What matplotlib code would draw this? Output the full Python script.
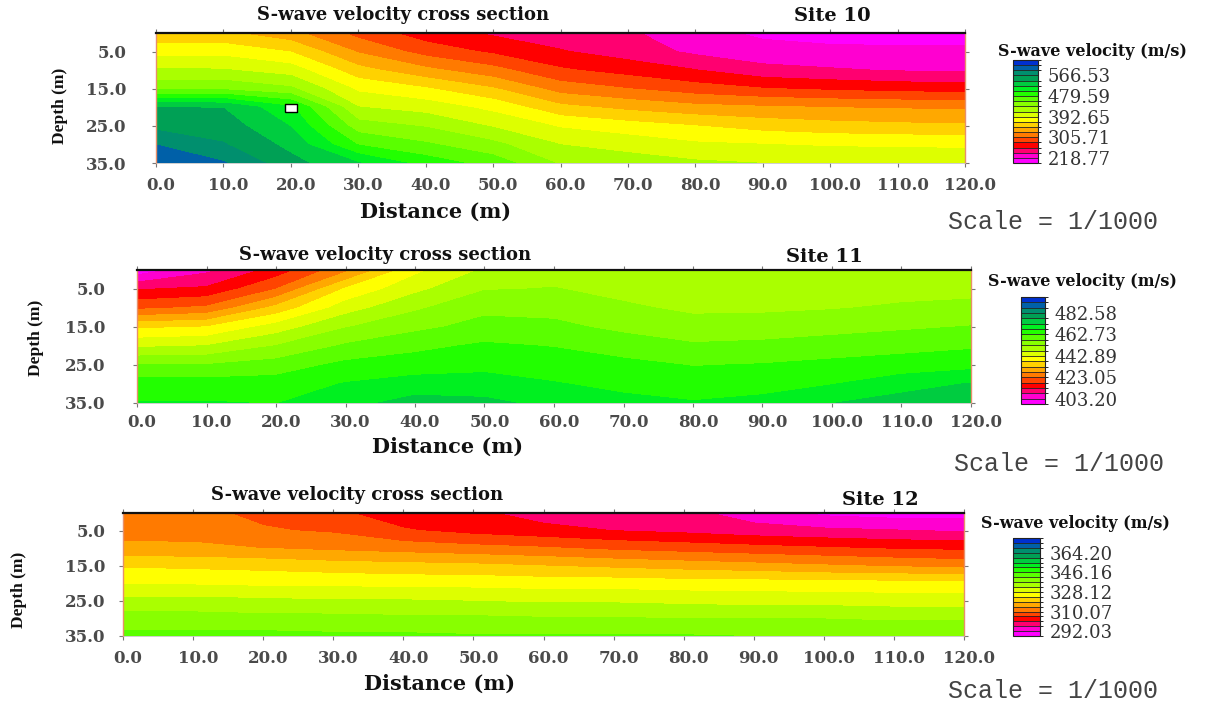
import numpy as np
import matplotlib
matplotlib.use("Agg")
import matplotlib.pyplot as plt
from matplotlib.colors import ListedColormap, BoundaryNorm
import matplotlib.transforms as mtransforms

# ---------------- data ----------------
distance = [0, 10, 20, 30, 40, 50, 60, 70, 80, 90, 100, 110, 120]
depth = [0, 5, 10, 15, 20, 25, 30, 35]

# S-wave velocity (m/s), rows = depth, columns = distance
site10_vs = [
    [355, 353, 334, 298, 272, 259, 250, 244, 225, 215, 212, 212, 212],
    [383, 385, 370, 325, 297, 280, 264, 252, 236, 226, 223, 222, 222],
    [418, 416, 404, 357, 333, 313, 287, 275, 263, 248, 243, 239, 237],
    [452, 453, 440, 388, 373, 351, 318, 306, 294, 285, 280, 276, 274],
    [545, 544, 505, 415, 405, 386, 355, 343, 334, 330, 327, 325, 324],
    [560, 556, 522, 446, 434, 412, 390, 380, 371, 362, 357, 354, 352],
    [588, 568, 538, 478, 461, 442, 414, 406, 396, 393, 390, 389, 388],
    [600, 590, 552, 524, 492, 470, 433, 425, 418, 414, 412, 411, 410],
]
site11_vs = [
    [400.0, 407.0, 415.0, 426.5, 441.5, 448.5, 451.0, 450.0, 449.0, 449.0, 449.0, 449.0, 449.0],
    [412.8, 414.0, 423.0, 438.5, 446.5, 452.5, 453.0, 451.5, 450.5, 450.5, 450.5, 451.0, 451.5],
    [422.0, 424.0, 434.5, 445.5, 452.0, 456.5, 456.0, 453.5, 452.0, 452.0, 452.5, 453.5, 454.0],
    [437.0, 438.0, 445.0, 452.5, 456.5, 459.5, 459.0, 456.5, 454.5, 455.0, 456.0, 457.0, 458.0],
    [447.0, 448.0, 453.0, 458.5, 461.5, 463.5, 462.5, 460.5, 458.5, 459.0, 460.0, 461.0, 462.0],
    [458.0, 458.0, 460.0, 464.0, 465.0, 466.5, 465.5, 464.0, 462.5, 463.0, 464.0, 465.0, 466.0],
    [465.0, 465.0, 465.0, 468.0, 470.0, 469.5, 468.0, 466.5, 465.5, 466.0, 467.5, 470.5, 473.0],
    [468.0, 468.0, 467.5, 471.0, 474.5, 474.0, 471.0, 469.0, 468.0, 469.0, 472.5, 475.0, 477.0],
]
site12_vs = [
    [311.0, 311.2, 309.0, 306.5, 303.0, 302.0, 299.0, 298.5, 298.0, 294.0, 291.0, 290.0, 290.0],
    [313.0, 312.8, 310.5, 309.5, 306.0, 304.0, 302.5, 301.0, 300.0, 298.5, 297.5, 296.8, 296.0],
    [315.5, 315.5, 314.5, 313.5, 312.5, 311.5, 310.5, 309.0, 308.0, 307.0, 306.0, 305.0, 304.5],
    [323.0, 322.5, 322.0, 321.0, 320.5, 320.0, 319.0, 318.0, 317.0, 316.0, 315.0, 314.0, 313.0],
    [327.5, 327.5, 327.0, 327.0, 326.5, 326.5, 326.0, 326.0, 325.5, 325.5, 325.0, 325.0, 325.0],
    [334.0, 334.0, 333.5, 333.0, 333.0, 332.5, 332.0, 332.0, 331.5, 331.0, 331.0, 330.5, 330.5],
    [339.0, 339.0, 338.5, 338.5, 338.0, 338.0, 337.5, 337.5, 337.0, 337.0, 337.0, 336.5, 336.5],
    [343.0, 343.0, 343.0, 342.5, 342.5, 342.0, 342.0, 342.0, 342.0, 341.5, 341.5, 341.0, 341.0],
]

site10_ticks = [218.77, 305.71, 392.65, 479.59, 566.53]
site11_ticks = [403.20, 423.05, 442.89, 462.73, 482.58]
site12_ticks = [292.03, 310.07, 328.12, 346.16, 364.20]

site_names = ["Site 10", "Site 11", "Site 12"]
x_ticks = [0, 10, 20, 30, 40, 50, 60, 70, 80, 90, 100, 110, 120]
y_ticks = [5, 15, 25, 35]

borehole_distance = [20.0]
borehole_depth = [20.3]

# ---------------- style ----------------
band_colors = ['#FF00FF', '#FF00D0', '#FF0070', '#FF0000', '#FF4400',
               '#FF7A00', '#FFA800', '#FFD200', '#FFFF00', '#DDFF00',
               '#AAFF00', '#88FF00', '#5AFF00', '#22FF00', '#00F020',
               '#00CC40', '#00A055', '#008F6E', '#0060A8', '#0030D0']
cmap = ListedColormap(band_colors)

W, H = 1206, 704
plt.rcParams['font.family'] = ['DejaVu Serif']
fig = plt.figure(figsize=(W / 100, H / 100), dpi=100)


def rect(x0, y0, x1, y1):
    return [x0 / W, 1 - y1 / H, (x1 - x0) / W, (y1 - y0) / H]


def fx(x):
    return x / W


def fy(y):
    return 1 - y / H


panels = [
    dict(vs=site10_vs, ticks=site10_ticks, name=site_names[0],
         ax=(156, 33, 965, 163), cb=(1013, 60, 1038, 163),
         title=(403, 15), site=(832, 16), ylab=(60, 106), xlab=(436, 212),
         scale=(948, 222), cbt=(1092, 52), ygap=28, xpad=7),
    dict(vs=site11_vs, ticks=site11_ticks, name=site_names[1],
         ax=(137, 270, 971, 403), cb=(1021, 297, 1045, 404),
         title=(385, 255), site=(824, 257), ylab=(36, 338), xlab=(448, 447),
         scale=(954, 464), cbt=(1082, 281), ygap=30, xpad=5),
    dict(vs=site12_vs, ticks=site12_ticks, name=site_names[2],
         ax=(123, 513, 964, 636), cb=(1013, 538, 1040, 636),
         title=(357, 495), site=(880, 500), ylab=(19, 590), xlab=(440, 684),
         scale=(948, 691), cbt=(1075, 524), ygap=16, xpad=7),
]

for i, p in enumerate(panels):
    ticks = p['ticks']
    step = (ticks[-1] - ticks[0]) / 16.0
    levels = ticks[0] + step * np.arange(-1, 20)
    norm = BoundaryNorm(levels, cmap.N)

    ax = fig.add_axes(rect(*p['ax']))
    cf = ax.contourf(distance, depth, np.array(p['vs']), levels=levels,
                     cmap=cmap, norm=norm)
    ax.set_xlim(0, 120)
    ax.set_ylim(35, 0)
    ax.set_xticks(x_ticks)
    ax.set_xticklabels([f"{v:.1f}" for v in x_ticks])
    ax.set_yticks(y_ticks)
    ax.set_yticklabels([f"{v:.1f}" for v in y_ticks])
    ax.tick_params(axis='both', direction='out', length=3, width=0.8,
                   color='#777777', top=True, right=True,
                   labelcolor='#4a4a4a', labelsize=12)
    ax.tick_params(axis='x', pad=p['xpad'])
    ax.tick_params(axis='y', pad=(p['ygap'] - 3) * 0.72)
    for lab in ax.get_xticklabels() + ax.get_yticklabels():
        lab.set_fontweight('bold')
    offset = mtransforms.ScaledTranslation(5 / 100, 0, fig.dpi_scale_trans)
    for lab in ax.get_xticklabels():
        lab.set_transform(lab.get_transform() + offset)

    ax.spines['top'].set_color('#111111')
    ax.spines['top'].set_linewidth(1.6)
    ax.spines['left'].set_color('#E8906A')
    ax.spines['right'].set_color('#E8906A')
    ax.spines['left'].set_linewidth(1.0)
    ax.spines['right'].set_linewidth(1.0)
    ax.spines['bottom'].set_color('#BBBBBB')
    ax.spines['bottom'].set_linewidth(0.5)

    if i == 0:
        ax.plot(borehole_distance, borehole_depth, linestyle='none',
                marker=[(-1.6, -1), (1.6, -1), (1.6, 1), (-1.6, 1), (-1.6, -1)],
                markersize=9, markerfacecolor='white',
                markeredgecolor='black', markeredgewidth=1.0)

    # colorbar
    cax = fig.add_axes(rect(*p['cb']))
    cb = fig.colorbar(cf, cax=cax, drawedges=True)
    cb.set_ticks(ticks, labels=[f"{t:.2f}" for t in ticks])
    cb.dividers.set_color('#222222')
    cb.dividers.set_linewidth(0.6)
    cb.outline.set_edgecolor('#222222')
    cb.outline.set_linewidth(0.8)
    cb.ax.tick_params(length=0, pad=7, labelsize=13, labelcolor='#333333')

    # texts
    fig.text(fx(p['title'][0]), fy(p['title'][1]), "S-wave velocity cross section",
             ha='center', va='center', fontsize=13, fontweight='bold', color='#111111')
    fig.text(fx(p['site'][0]), fy(p['site'][1]), p['name'],
             ha='center', va='center', fontsize=14, fontweight='bold', color='#111111')
    fig.text(fx(p['ylab'][0]), fy(p['ylab'][1]), "Depth (m)", rotation=90,
             ha='center', va='center', fontsize=12.5, fontweight='bold',
             family=['Liberation Serif', 'DejaVu Serif'], color='#111111')
    fig.text(fx(p['xlab'][0]), fy(p['xlab'][1]), "Distance (m)",
             ha='center', va='center', fontsize=15, fontweight='bold', color='#111111')
    fig.text(fx(p['scale'][0]), fy(p['scale'][1]), "Scale = 1/1000",
             ha='left', va='center', fontsize=18, color='#444444',
             family=['Liberation Mono', 'DejaVu Sans Mono'])
    fig.text(fx(p['cbt'][0]), fy(p['cbt'][1]), "S-wave velocity (m/s)",
             ha='center', va='center', fontsize=11.5, fontweight='bold', color='#111111')

fig.savefig("out.png", dpi=100)
